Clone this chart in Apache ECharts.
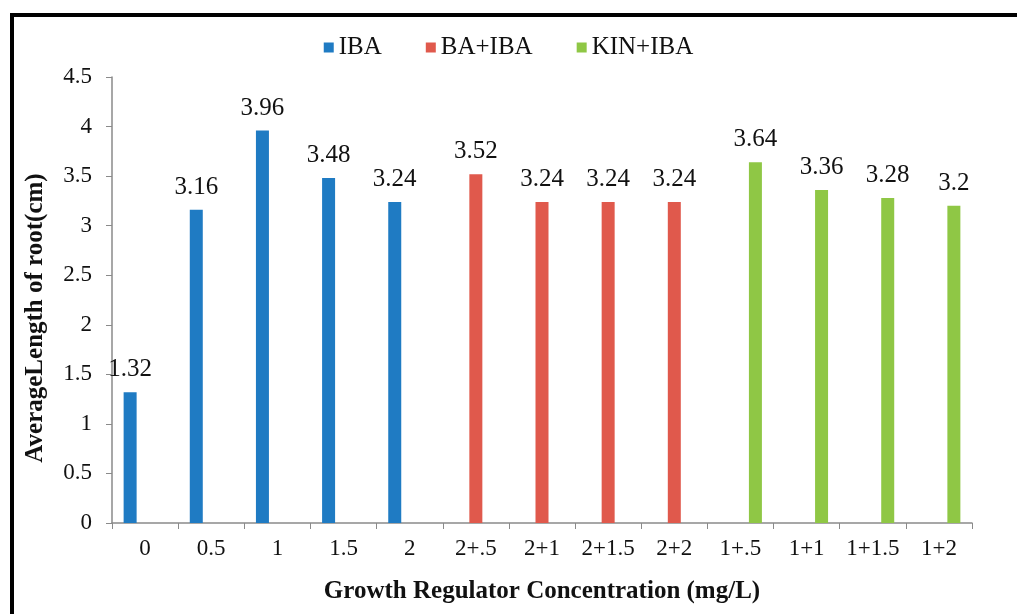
<!DOCTYPE html>
<html>
<head>
<meta charset="utf-8">
<script src="https://cdn.jsdelivr.net/npm/echarts@6/dist/echarts.min.js"></script>
<style>
  html, body { margin: 0; padding: 0; background: #ffffff; }
  #chart { width: 1017px; height: 614px; }
</style>
</head>
<body>
<div id="chart"></div>
<script>
// Growth regulator treatments on the category axis
const categories = ['0', '0.5', '1', '1.5', '2', '2+.5', '2+1', '2+1.5', '2+2', '1+.5', '1+1', '1+1.5', '1+2'];

// Average root length (cm) for each treatment group; null where the group has no treatment
const ibaValues    = [1.32, 3.16, 3.96, 3.48, 3.24, null, null, null, null, null, null, null, null];
const baIbaValues  = [null, null, null, null, null, 3.52, 3.24, 3.24, 3.24, null, null, null, null];
const kinIbaValues = [null, null, null, null, null, null, null, null, null, 3.64, 3.36, 3.28, 3.2];

const seriesNames = ['IBA', 'BA+IBA', 'KIN+IBA'];
const seriesColors = ['#1f7bc3', '#e0594c', '#8fc745'];

const serif = '"Liberation Serif", "DejaVu Serif", serif';

const chart = echarts.init(document.getElementById('chart'), null, { renderer: 'canvas' });

function barSeries(name, data, color) {
  return {
    name: name,
    type: 'bar',
    data: data,
    barWidth: 13,
    barGap: '15%',
    itemStyle: { color: color },
    label: {
      show: true,
      position: 'top',
      distance: 10,
      color: '#111',
      fontFamily: serif,
      fontSize: 25,
      formatter: p => (p.value == null ? '' : String(p.value))
    }
  };
}

chart.setOption({
  animation: false,
  backgroundColor: '#ffffff',
  textStyle: { fontFamily: serif },
  graphic: [
    // frame lines along the top and left edges
    { type: 'line', shape: { x1: 10, y1: 15, x2: 1017, y2: 15 }, style: { stroke: '#000', lineWidth: 4 } },
    { type: 'line', shape: { x1: 12, y1: 13, x2: 12, y2: 614 }, style: { stroke: '#000', lineWidth: 4 } }
  ],
  legend: {
    top: 30,
    left: 'center',
    itemWidth: 10,
    itemHeight: 10,
    itemGap: 44,
    icon: 'rect',
    textStyle: { fontFamily: serif, fontSize: 25, color: '#111' },
    data: seriesNames
  },
  grid: { left: 112, right: 45, top: 77, bottom: 91, containLabel: false },
  xAxis: {
    type: 'category',
    data: categories,
    name: 'Growth Regulator Concentration (mg/L)',
    nameLocation: 'middle',
    nameGap: 56,
    nameTextStyle: { fontFamily: serif, fontSize: 25, fontWeight: 'bold', color: '#111' },
    axisLine: { lineStyle: { color: '#8a8a8a', width: 1.5 } },
    axisTick: { show: true, inside: false, length: 6, alignWithLabel: false, lineStyle: { color: '#8a8a8a' } },
    axisLabel: { fontFamily: serif, fontSize: 23, color: '#111', margin: 14, interval: 0 },
    splitLine: { show: false }
  },
  yAxis: {
    type: 'value',
    min: 0,
    max: 4.5,
    interval: 0.5,
    name: 'AverageLength of root(cm)',
    nameLocation: 'middle',
    nameRotate: 90,
    nameGap: 64,
    nameTextStyle: { fontFamily: serif, fontSize: 25, fontWeight: 'bold', color: '#111', padding: [0, 0, 0, -36] },
    axisLine: { show: true, lineStyle: { color: '#8a8a8a', width: 1.5 } },
    axisTick: { show: true, inside: false, length: 6, lineStyle: { color: '#8a8a8a' } },
    axisLabel: { fontFamily: serif, fontSize: 23, color: '#111', margin: 20 },
    splitLine: { show: false }
  },
  series: [
    barSeries(seriesNames[0], ibaValues, seriesColors[0]),
    barSeries(seriesNames[1], baIbaValues, seriesColors[1]),
    barSeries(seriesNames[2], kinIbaValues, seriesColors[2])
  ]
});
</script>
</body>
</html>
